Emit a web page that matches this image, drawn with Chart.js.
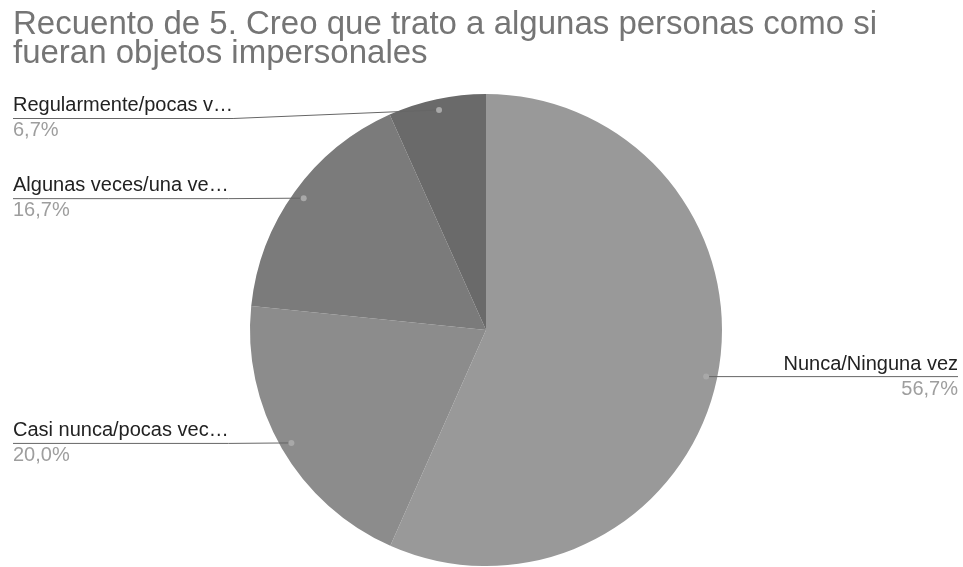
<!DOCTYPE html>
<html>
<head>
<meta charset="utf-8">
<script src="https://cdn.jsdelivr.net/npm/chart.js@4.4.1/dist/chart.umd.min.js"></script>
<style>
  html, body { margin: 0; padding: 0; background: #fff; }
  #wrap { width: 963px; height: 567px; position: relative; }
</style>
</head>
<body>
<div id="wrap"><canvas id="myChart"></canvas></div>
<script>
// Les données du graphique
const TITLE = ["Recuento de 5. Creo que trato a algunas personas como si", "fueran objetos impersonales"];
const labels = ["Nunca/Ninguna vez", "Casi nunca/pocas vec…", "Algunas veces/una ve…", "Regularmente/pocas v…"];
const datas = [56.7, 20.0, 16.7, 6.7];
const percents = ["56,7%", "20,0%", "16,7%", "6,7%"];
const colors = ["#999999", "#8c8c8c", "#7b7b7b", "#6a6a6a"];

const FONT = "'Liberation Sans', Arial, sans-serif";

// Plugin maison : titre + étiquettes avec lignes de rappel
const labelsPlugin = {
	id: "pieLabels",
	afterDraw(chart) {
		const ctx = chart.ctx;
		ctx.save();

		// titre sur deux lignes
		ctx.fillStyle = "#757575";
		ctx.font = "33px " + FONT;
		ctx.textAlign = "left";
		ctx.textBaseline = "alphabetic";
		ctx.fillText(TITLE[0], 13, 34);
		ctx.fillText(TITLE[1], 13, 63);

		const meta = chart.getDatasetMeta(0);
		meta.data.forEach((arc, i) => {
			const p = arc.getProps(["x", "y", "startAngle", "endAngle", "outerRadius"], true);
			const mid = (p.startAngle + p.endAngle) / 2;
			const r = p.outerRadius - 11;
			const dx = p.x + Math.cos(mid) * r;
			const dy = p.y + Math.sin(mid) * r;
			const right = Math.cos(mid) > 0;
			const lineY = Math.max(dy, 118);

			ctx.font = "20px " + FONT;
			const textW = ctx.measureText(labels[i]).width;

			// ligne de rappel
			ctx.strokeStyle = "#666666";
			ctx.lineWidth = 1;
			ctx.beginPath();
			if (right) {
				ctx.moveTo(dx, dy);
				ctx.lineTo(958, lineY);
			} else {
				ctx.moveTo(13, lineY + 0.5);
				ctx.lineTo(13 + textW, lineY + 0.5);
				ctx.lineTo(dx, dy);
			}
			ctx.stroke();

			// petit point
			ctx.fillStyle = "#a8a8a8";
			ctx.beginPath();
			ctx.arc(dx, dy, 3, 0, Math.PI * 2);
			ctx.fill();

			// textes
			ctx.textAlign = right ? "right" : "left";
			const tx = right ? 958 : 13;
			ctx.fillStyle = "#222222";
			ctx.fillText(labels[i], tx, lineY - 7);
			ctx.fillStyle = "#9e9e9e";
			ctx.fillText(percents[i], tx, lineY + 18);
		});
		ctx.restore();
	},
};

const ctx = document.querySelector("#myChart").getContext("2d");

const CONFIG = {
	type: "pie",
	data: {
		labels: labels,
		datasets: [
			{
				data: datas,
				backgroundColor: colors,
				borderWidth: 0,
			},
		],
	},
	options: {
		responsive: true,
		maintainAspectRatio: false,
		animation: false,
		layout: { padding: { top: 94, bottom: 1, left: 250, right: 241 } },
		plugins: {
			legend: { display: false },
			tooltip: { enabled: false },
			title: { display: false },
		},
	},
	plugins: [labelsPlugin],
};

const chartPie = new Chart(ctx, CONFIG);
</script>
</body>
</html>
